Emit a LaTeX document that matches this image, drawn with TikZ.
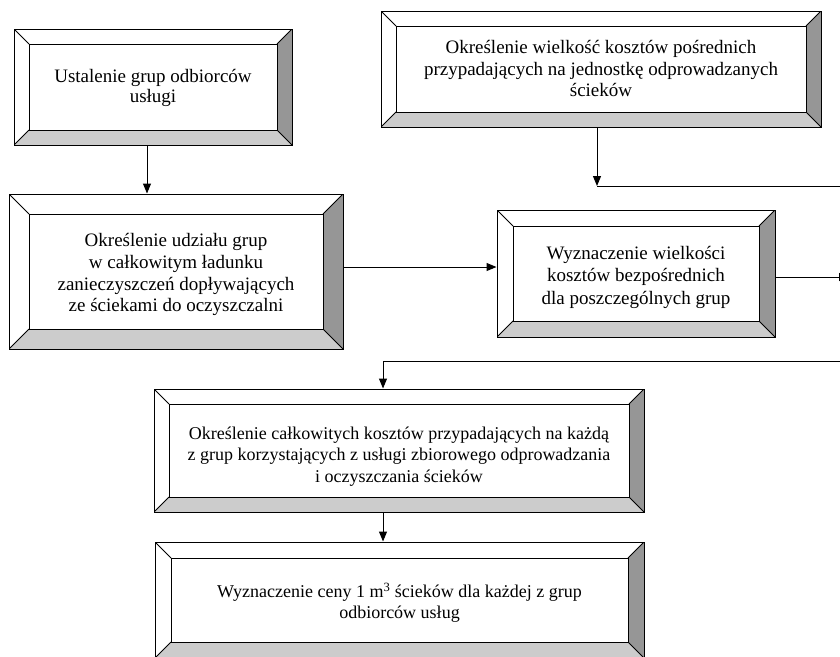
\documentclass[tikz,border=0pt]{standalone}
\usepackage{fontspec}
\setmainfont{Liberation Serif}
\usetikzlibrary{arrows.meta,calc}
\definecolor{bevdark}{HTML}{969696}
\definecolor{bevlight}{HTML}{CCCCCC}
\newcommand{\btext}[2]{\raisebox{-#1}[\height][\depth]{\begin{tabular}{@{}c@{}}#2\end{tabular}}}
\tikzset{
  bev/.store in=\bevw, bev=15pt,
  fsz/.style 2 args={font=\fontsize{#1}{#2}\selectfont},
  bevelbox/.style={draw, line width=1pt, fill=white, inner sep=0pt, align=center,
    fsz={18}{21},
    path picture={
      \coordinate (pnw) at (path picture bounding box.north west);
      \coordinate (pne) at (path picture bounding box.north east);
      \coordinate (psw) at (path picture bounding box.south west);
      \coordinate (pse) at (path picture bounding box.south east);
      \fill[bevdark] (pne) -- (pse) -- ([shift={(-\bevw,\bevw)}]pse) -- ([shift={(-\bevw,-\bevw)}]pne) -- cycle;
      \fill[bevlight] (psw) -- (pse) -- ([shift={(-\bevw,\bevw)}]pse) -- ([shift={(\bevw,\bevw)}]psw) -- cycle;
      \draw[line width=1pt] (pnw) -- ([shift={(\bevw,-\bevw)}]pnw)
        (pne) -- ([shift={(-\bevw,-\bevw)}]pne)
        (psw) -- ([shift={(\bevw,\bevw)}]psw)
        (pse) -- ([shift={(-\bevw,\bevw)}]pse);
      \draw[line width=1pt] ([shift={(\bevw,-\bevw)}]pnw) rectangle ([shift={(-\bevw,\bevw)}]pse);
    }},
  conn/.style={line width=1pt},
  arr/.style={conn, -{Triangle[length=10pt,width=8pt]}}
}
\begin{document}
\begin{tikzpicture}[x=1pt,y=-1pt]
\clip (0,0) rectangle (840,656);
\fill[white] (0,0) rectangle (840,656);

\node[bevelbox, bev=15pt, fsz={19}{20}, minimum width=278pt, minimum height=116pt] (B1) at (153,87)
  {\btext{1pt}{Ustalenie grup odbiorców\\usługi}};
\node[bevelbox, bev=20pt, fsz={19}{21.7}, minimum width=334pt, minimum height=155pt] (B2) at (176,271.5)
  {\btext{3.5pt}{Określenie udziału grup\\w całkowitym ładunku\\zanieczyszczeń dopływających\\ze ściekami do oczyszczalni}};
\node[bevelbox, bev=16pt, fsz={19}{22.5}, minimum width=278pt, minimum height=127pt] (B3) at (636,273.5)
  {\btext{3.5pt}{Wyznaczenie wielkości\\kosztów bezpośrednich\\dla poszczególnych grup}};
\node[bevelbox, bev=15pt, fsz={19}{21.5}, minimum width=440pt, minimum height=116pt] (BT) at (601,69)
  {\btext{2pt}{Określenie wielkość kosztów pośrednich\\przypadających na jednostkę odprowadzanych\\ścieków}};
\node[bevelbox, bev=15pt, fsz={18}{21.5}, minimum width=490pt, minimum height=123pt] (B4) at (399,450.5)
  {\btext{6pt}{Określenie całkowitych kosztów przypadających na każdą\\z grup korzystających z usługi zbiorowego odprowadzania\\i oczyszczania ścieków}};
\node[bevelbox, bev=16pt, fsz={18}{21}, minimum width=489pt, minimum height=116pt] (B5) at (399.5,600)
  {\btext{4pt}{Wyznaczenie ceny 1 m\textsuperscript{3} ścieków dla każdej z grup\\odbiorców usług}};

\coordinate (c1) at (147,0);
\draw[arr] (B1.south -| c1) -- (B2.north -| c1);
\coordinate (c2) at (0,267);
\draw[arr] (B2.east |- c2) -- (B3.west |- c2);
\coordinate (r1) at (849,277);
\draw[arr] (B3.east |- r1) -- (r1);
\coordinate (j1) at (597,186);
\coordinate (r2) at (845,186);
\draw[arr] (BT.south -| j1) -- (j1);
\draw[conn] (j1) -- (r2);
\coordinate (j2) at (383,361);
\coordinate (r3) at (845,361);
\draw[conn] (r3) -- (j2);
\draw[arr] (j2) -- (B4.north -| j2);
\coordinate (c4) at (383,0);
\draw[arr] (B4.south -| c4) -- (B5.north -| c4);
\end{tikzpicture}
\end{document}
